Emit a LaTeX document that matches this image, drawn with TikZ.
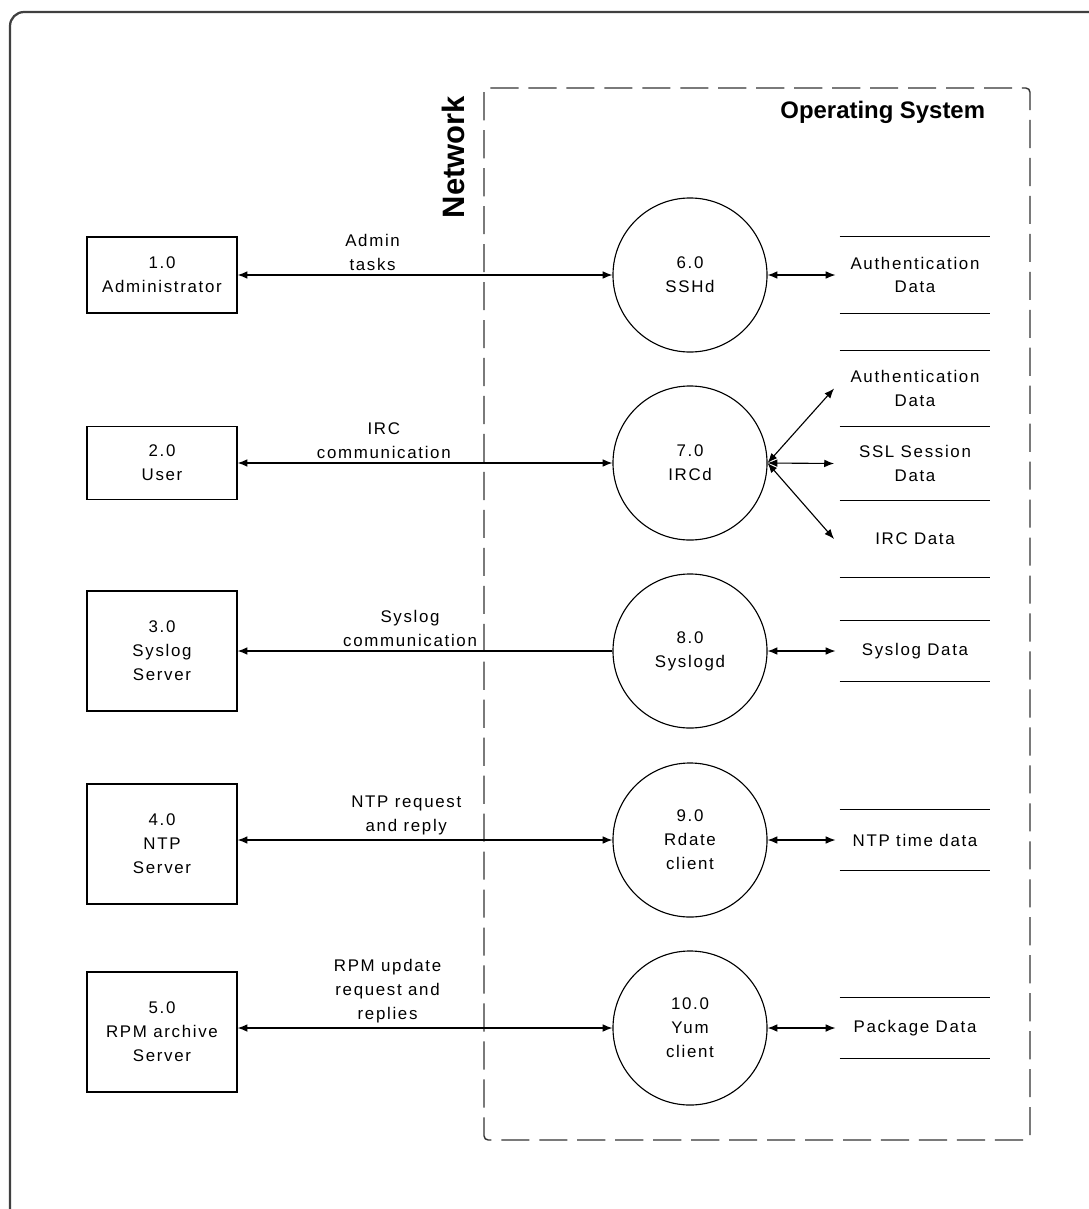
\documentclass[tikz,border=0pt]{standalone}
\usepackage{fontspec}
\setmainfont{Liberation Sans}
\newfontfamily\dfdfont[LetterSpace=10]{Liberation Sans}
\usetikzlibrary{arrows.meta}

\tikzset{
	ext/.style={draw, line width=0.9pt, minimum width=3.75cm, align=center, inner sep=1pt},
	proc/.style={draw, circle, line width=0.8pt, minimum size=3.85cm, inner sep=0pt, align=center},
	store/.style={minimum width=3.75cm, align=center, inner sep=0pt},
	storeline/.style={line width=0.9pt},
	flow/.style={line width=0.8pt, {Latex[length=7pt,width=5.5pt]}-{Latex[length=7pt,width=5.5pt]}},
	flowto/.style={line width=0.8pt, -{Latex[length=7pt,width=5.5pt]}},
	lbl/.style={align=center, inner sep=3pt},
}

\begin{document}
\begin{tikzpicture}[x=0.025cm, y=-0.025cm, font=\dfdfont\fontsize{12}{17}\selectfont]
		\clip (0,0) rectangle (1089,1209);
		% outer frame
		\draw[line width=1.6pt, black!75, rounded corners=10pt] (10,12) rectangle (1120,1240);
		% operating system boundary
		\draw[line width=1pt, black!80, dash pattern=on 20pt off 7pt, rounded corners=3pt] (484,88) rectangle (1030,1140);
		\node[font=\bfseries\fontsize{17}{20}\selectfont, anchor=east] (oslabel) at (990,112) {Operating System};
		\node[font=\bfseries\fontsize{22}{26}\selectfont, rotate=90] (netlabel) at (453,157) {Network};
		% external entities
		\node[ext, minimum height=1.9cm] (admin) at (162,275) {1.0\\Administrator};
		\node[ext, minimum height=1.825cm] (user) at (162,463) {2.0\\User};
		\node[ext, minimum height=3cm] (syslog) at (162,651) {3.0\\Syslog\\Server};
		\node[ext, minimum height=3cm] (ntp) at (162,844) {4.0\\NTP\\Server};
		\node[ext, minimum height=3cm] (rpm) at (162,1032) {5.0\\RPM archive\\Server};
		% processes
		\node[proc] (sshd) at (690,275) {6.0\\SSHd};
		\node[proc] (ircd) at (690,463) {7.0\\IRCd};
		\node[proc] (syslogd) at (690,651) {8.0\\Syslogd};
		\node[proc] (rdate) at (690,840) {9.0\\Rdate\\client};
		\node[proc] (yum) at (690,1028) {10.0\\Yum\\client};
		% data stores
		\node[store, minimum height=1.9cm] (auth1) at (915,275) {Authentication\\Data};
		\node[store, minimum height=1.875cm] (auth2) at (915,388.5) {Authentication\\Data};
		\node[store, minimum height=1.875cm] (ssl) at (915,463.5) {SSL Session\\Data};
		\node[store, minimum height=1.9cm] (ircdata) at (915,539) {IRC Data};
		\node[store, minimum height=1.5cm] (syslogdata) at (915,651) {Syslog Data};
		\node[store, minimum height=1.5cm] (ntpdata) at (915,840) {NTP time data};
		\node[store, minimum height=1.5cm] (pkgdata) at (915,1028) {Package Data};
		\foreach \s in {auth1,auth2,ircdata,syslogdata,ntpdata,pkgdata}
			\draw[storeline] (\s.north west) -- (\s.north east) (\s.south west) -- (\s.south east);
		% flows across the network
		\draw[flow] (admin) -- node[lbl, above, pos=0.36] {Admin\\tasks} (sshd);
		\draw[flow] (user) -- node[lbl, above, pos=0.39] {IRC\\communication} (ircd);
		\draw[flowto] (syslogd) -- node[lbl, above, pos=0.54] {Syslog\\communication} (syslog);
		\draw[flow] (ntp.east |- rdate.west) -- node[lbl, above, pos=0.45] {NTP request\\and reply} (rdate.west);
		\draw[flow] (rpm.east |- yum.west) -- node[lbl, above, pos=0.40] {RPM update\\request and\\replies} (yum.west);
		% flows to the data stores
		\draw[flow] (sshd) -- ([xshift=-3pt]auth1.west);
		\foreach \s in {auth2,ssl,ircdata}
			\draw[flow] (ircd.east) -- ([xshift=-4pt]\s.west);
		\draw[flow] (syslogd) -- ([xshift=-3pt]syslogdata.west);
		\draw[flow] (rdate) -- ([xshift=-3pt]ntpdata.west);
		\draw[flow] (yum) -- ([xshift=-3pt]pkgdata.west);
	\end{tikzpicture}
\end{document}
